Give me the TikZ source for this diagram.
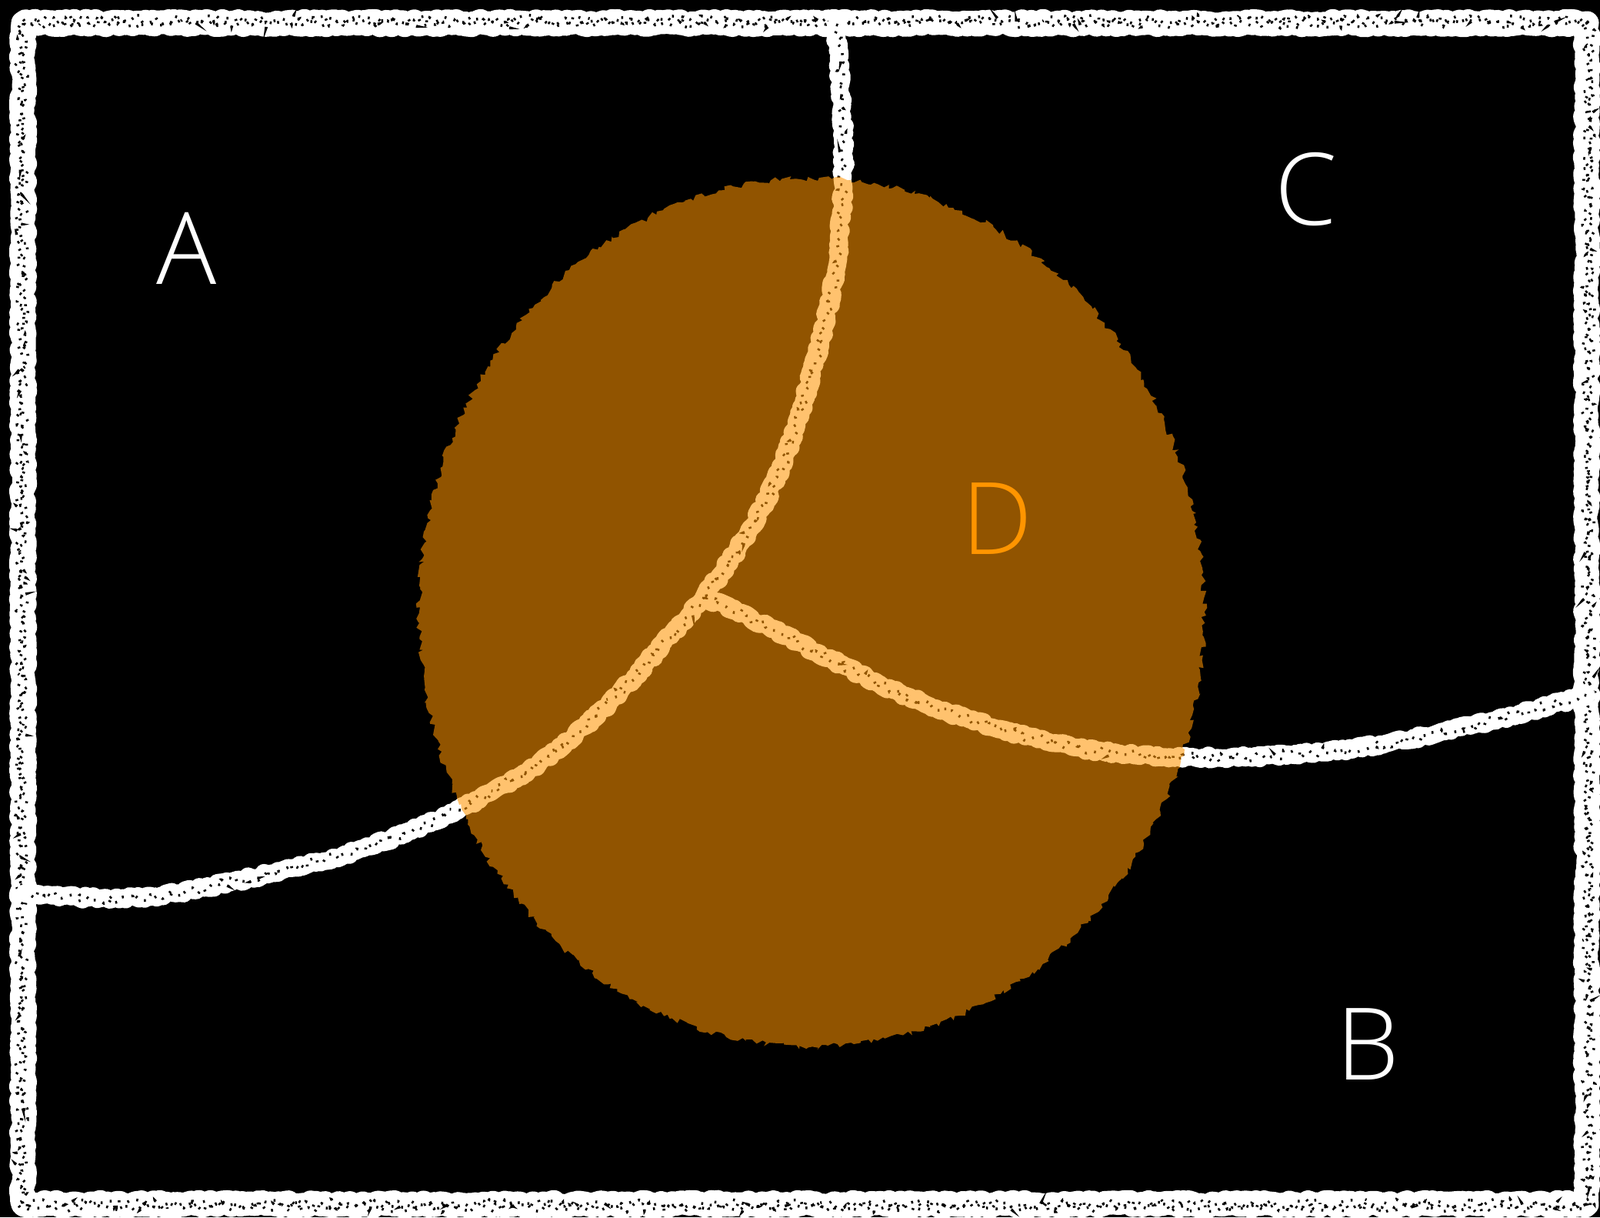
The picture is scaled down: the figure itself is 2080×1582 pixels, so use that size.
\documentclass[tikz,border=0pt]{standalone}
\usepackage{fontspec}
\setmainfont{Liberation Sans}
\newfontfamily\labfont{Open Sans}[UprightFont={* Light}]
\usetikzlibrary{decorations.pathmorphing}
\definecolor{dorange}{RGB}{255,149,0}
\begin{document}
\begin{tikzpicture}[x=0.01cm,y=-0.01cm,
  chalk/.style={draw=white, line width=0.23cm, line cap=round, line join=round,
    decorate, decoration={random steps, segment length=0.04cm, amplitude=0.028cm}},
  frame/.style={chalk, line width=0.31cm},
  speck/.style={draw=black, line width=0.035cm, dash pattern=on 0.025cm off 0.1cm,
    decorate, decoration={random steps, segment length=0.05cm, amplitude=0.065cm}},
  lab/.style={font=\labfont\fontsize{37}{40}\selectfont, text=white, inner sep=0pt, anchor=base},
  vcurve/.style={insert path={(1087,32) to[out=-87,in=88] (1096,240) to[out=-92,in=74.5] (1050,504) to[out=-105.5,in=53] (915,776)}},
  lcurve/.style={insert path={(915,776) to[out=-131,in=26] (604,1048) to[out=-154,in=12] (265,1154) to[out=-168,in=-5] (32,1161)}},
  rcurve/.style={insert path={(915,776) to[out=-23,in=162] (1260,935) to[out=-18,in=-179] (1600,984) to[out=1,in=-165] (2062,904)}}]
\fill[black] (0,0) rectangle (2080,1582);
\useasboundingbox (0,0) rectangle (2080,1582);
% frame
\path[frame] (30,30) rectangle (2063,1565);
\path[speck] (30,30) rectangle (2063,1565);
\path[speck, dash phase=0.05cm] (26,26) rectangle (2067,1569);
% dividing curves
\coordinate (J) at (915,776);
\path[chalk, vcurve];
\path[chalk, lcurve];
\path[chalk, rcurve];
\path[speck, vcurve];
\path[speck, lcurve];
\path[speck, rcurve];
% set D
\fill[dorange, fill opacity=0.57, decorate, decoration={random steps, segment length=0.05cm, amplitude=0.04cm}]
  (1055,796) ellipse [x radius=5.10cm, y radius=5.64cm];
% labels
\node[lab] (la) at (243,369) {A};
\node[lab] (lc) at (1698,292) {C};
\node[lab] (lb) at (1778,1403) {B};
\node[lab, text=dorange] (ld) at (1296,720) {D};
\end{tikzpicture}
\end{document}
